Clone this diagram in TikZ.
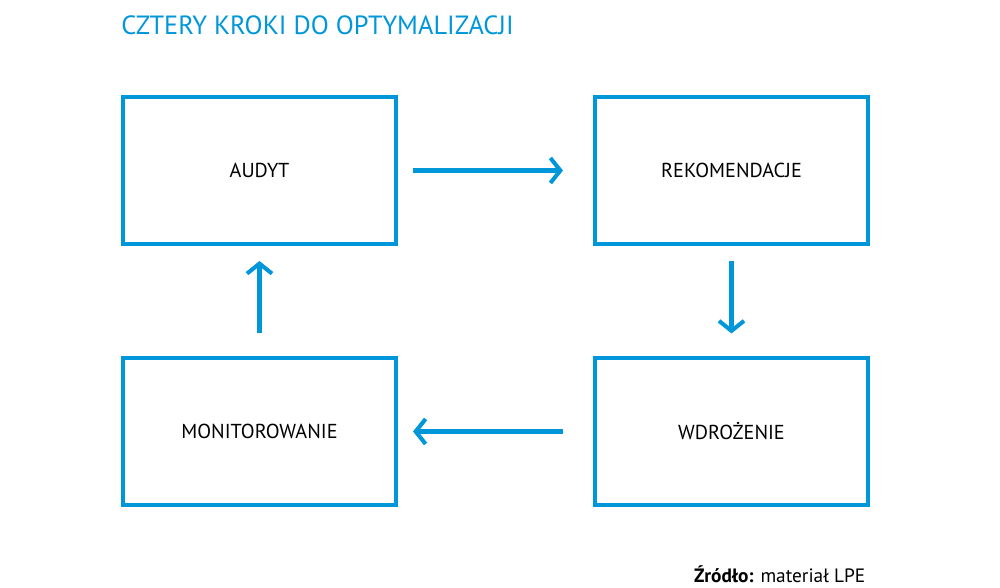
\documentclass[tikz,border=0pt]{standalone}
\usepackage{fontspec}
\setmainfont{PT Sans}
\usetikzlibrary{arrows.meta}
\definecolor{lpeblue}{RGB}{0,150,218}
\tikzset{
  krok/.style={draw=lpeblue,line width=2.3pt,minimum width=5.46cm,minimum height=2.94cm,font=\fontsize{11.5}{13}\selectfont},
  strzalka/.style={draw=lpeblue,line width=2.3pt,-{Straight Barb[length=2mm,width=5mm]}}
}
\begin{document}
\begin{tikzpicture}
\useasboundingbox (0,0) rectangle (20,11.76);
\node[anchor=west,text=lpeblue,font=\fontsize{15}{17}\selectfont,inner sep=0pt] (tytul) at (2.42,11.26) {CZTERY KROKI DO OPTYMALIZACJI};
\node[krok] (audyt) at (5.19,8.35) {AUDYT};
\node[krok] (rekom) at (14.63,8.35) {REKOMENDACJE};
\node[krok] (monit) at (5.19,3.13) {MONITOROWANIE};
\node[krok] (wdroz) at (14.63,3.13) {WDROŻENIE};
\draw[strzalka,shorten <=0.3cm,shorten >=0.6cm] (audyt) -- (rekom);
\draw[strzalka,shorten <=0.3cm,shorten >=0.45cm] (rekom) -- (wdroz);
\draw[strzalka,shorten <=0.6cm,shorten >=0.3cm] (wdroz) -- (monit);
\draw[strzalka,shorten <=0.45cm,shorten >=0.3cm] (monit) -- (audyt);
\node[anchor=east,font=\fontsize{11}{13}\selectfont] (zrodlo) at (17.43,0.28) {\textbf{Źródło:} materiał LPE};
\end{tikzpicture}
\end{document}
